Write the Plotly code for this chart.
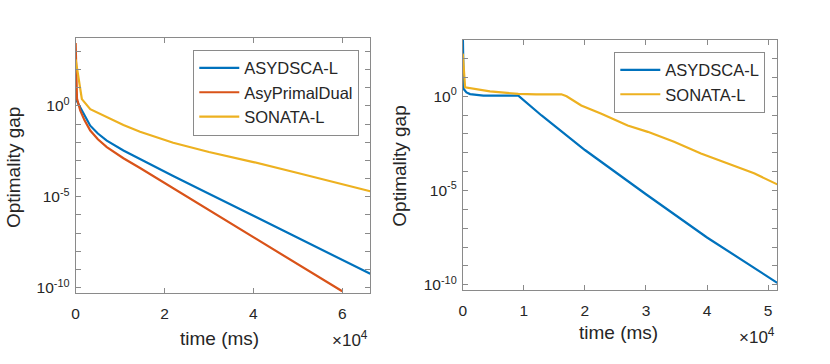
import plotly.graph_objects as go

# left panel (time in ms)
t_blue_l = [0, 100, 1045, 2000, 3285, 5000, 7010, 10750, 14490, 18210, 21950, 30000, 40000, 50000, 60000, 66300]
gap_blue_l = [41.7, 2.24, 0.81, 0.28, 0.081, 0.030, 0.0123, 3.5e-3, 1.17e-3, 3.98e-4, 1.38e-4, 1.48e-5, 9.1e-7,
              5.6e-8, 3.5e-9, 5.8e-10]

t_red_l = [0, 300, 1045, 2000, 3285, 5000, 7010, 10750, 14490, 19700, 30000, 40000, 50000, 60000]
gap_red_l = [2900, 2.5, 0.54, 0.16, 0.044, 0.0145, 5.4e-3, 1.32e-3, 3.8e-4, 6.3e-5, 1.86e-6, 5.9e-8, 1.9e-9, 6.3e-11]

t_yel_l = [0, 1400, 3285, 7010, 10750, 14490, 18210, 21950, 30000, 40000, 50000, 60000, 66300]
gap_yel_l = [355, 2.34, 0.66, 0.234, 0.089, 0.038, 0.018, 9.3e-3, 2.9e-3, 8.1e-4, 2.04e-4, 5.0e-5, 2.0e-5]

# right panel
t_blue_r = [0, 150, 600, 1190, 3370, 9090, 12900, 15000, 20000, 30000, 40000, 51500]
gap_blue_r = [3000, 2.4, 1.6, 1.3, 1.07, 1.07, 0.095, 0.028, 1.4e-3, 6.3e-6, 3.2e-8, 1.26e-10]

t_yel_r = [0, 380, 4450, 9090, 12000, 16150, 17000, 19400, 22700, 27000, 30300, 34600, 39000, 43300, 47700, 51500]
gap_yel_r = [182, 2.95, 1.82, 1.32, 1.26, 1.26, 1.0, 0.32, 0.117, 0.028, 0.0129, 3.8e-3, 9.1e-4, 2.75e-4,
             8.1e-5, 2.1e-5]

xticks_l = [0, 20000, 40000, 60000]
xticks_r = [0, 10000, 20000, 30000, 40000, 50000]
yticks = [1, 1e-5, 1e-10]
ytick_text = ["10<sup>0</sup>", "10<sup>-5</sup>", "10<sup>-10</sup>"]
decades = [10.0 ** k for k in range(-10, 4)]

BLUE, RED, YEL = "#0072BD", "#D95319", "#EDB120"
FONT = "Liberation Sans, Arial, sans-serif"
TXT = "#262626"
AX = "#8a8a8a"
W, H = 830, 364


def px(x):
    return x / W


def py(y):
    return 1 - y / H


fig = go.Figure()
fig.add_trace(go.Scatter(x=t_blue_l, y=gap_blue_l, mode="lines", name="ASYDSCA-L",
                         line=dict(color=BLUE, width=2.2), xaxis="x", yaxis="y", legend="legend"))
fig.add_trace(go.Scatter(x=t_red_l, y=gap_red_l, mode="lines", name="AsyPrimalDual",
                         line=dict(color=RED, width=2.2), xaxis="x", yaxis="y", legend="legend"))
fig.add_trace(go.Scatter(x=t_yel_l, y=gap_yel_l, mode="lines", name="SONATA-L",
                         line=dict(color=YEL, width=2.2), xaxis="x", yaxis="y", legend="legend"))
fig.add_trace(go.Scatter(x=t_blue_r, y=gap_blue_r, mode="lines", name="ASYDSCA-L",
                         line=dict(color=BLUE, width=2.2), xaxis="x2", yaxis="y2", legend="legend2"))
fig.add_trace(go.Scatter(x=t_yel_r, y=gap_yel_r, mode="lines", name="SONATA-L",
                         line=dict(color=YEL, width=2.2), xaxis="x2", yaxis="y2", legend="legend2"))


def xax(domain, rng, vals, anchor):
    return dict(domain=domain, range=rng, anchor=anchor, tickmode="array", tickvals=vals,
                ticktext=[str(int(v / 10000)) for v in vals], ticks="inside", ticklen=5,
                tickcolor=AX, showline=True, linecolor=AX, linewidth=1, mirror="ticks",
                showgrid=False, zeroline=False, tickfont=dict(size=15.5, color=TXT),
                ticklabelstandoff=7)


def yax(domain, rng, anchor):
    return dict(domain=domain, type="log", range=rng, anchor=anchor, tickmode="array",
                tickvals=yticks, ticktext=ytick_text, ticks="inside", ticklen=5, tickcolor=AX,
                minor=dict(tickvals=decades, ticks="inside", ticklen=5, tickcolor=AX),
                showline=True, linecolor=AX, linewidth=1, mirror="ticks", showgrid=False,
                zeroline=False, tickfont=dict(size=15.5, color=TXT), ticklabelstandoff=2)


legend_style = dict(font=dict(size=16.5, color=TXT, family=FONT), bgcolor="white",
                    bordercolor=AX, borderwidth=1, xanchor="right", yanchor="top",
                    itemwidth=40, tracegroupgap=0)

fig.update_layout(
    width=W, height=H, margin=dict(l=0, r=0, t=0, b=0),
    paper_bgcolor="white", plot_bgcolor="white",
    font=dict(family=FONT, color=TXT),
    xaxis=xax([px(72), px(368)], [0, 66300], xticks_l, "y"),
    yaxis=yax([py(295), py(38)], [-10.27, 3.75], "x"),
    xaxis2=xax([px(461), px(777)], [0, 51500], xticks_r, "y2"),
    yaxis2=yax([py(292), py(40)], [-10.26, 3.0], "x2"),
    legend=dict(x=px(357), y=py(50), **legend_style),
    legend2=dict(x=px(765), y=py(52), **legend_style),
)

labels = [
    dict(x=9.5, y=169, text="Optimality gap", textangle=-90),
    dict(x=398, y=168, text="Optimality gap", textangle=-90),
    dict(x=217, y=341, text="time (ms)", textangle=0),
    dict(x=617, y=335.5, text="time (ms)", textangle=0),
]
for lb in labels:
    fig.add_annotation(x=px(lb["x"]), y=py(lb["y"]), xref="paper", yref="paper",
                       text=lb["text"], textangle=lb["textangle"], showarrow=False,
                       font=dict(size=19, color=TXT, family=FONT),
                       xanchor="center", yanchor="middle")

for xr, yc in [(368, 342), (777, 339)]:
    fig.add_annotation(x=px(xr), y=py(yc), xref="paper", yref="paper",
                       text="\u00d710<sup>4</sup>", showarrow=False,
                       font=dict(size=17, color=TXT, family=FONT),
                       xanchor="right", yanchor="middle")

# drop the browser's default 8px body margin so the figure sits at the window origin
fig.write_html("out.html", config={"displayModeBar": False},
               post_script="document.body.style.margin='0';")
